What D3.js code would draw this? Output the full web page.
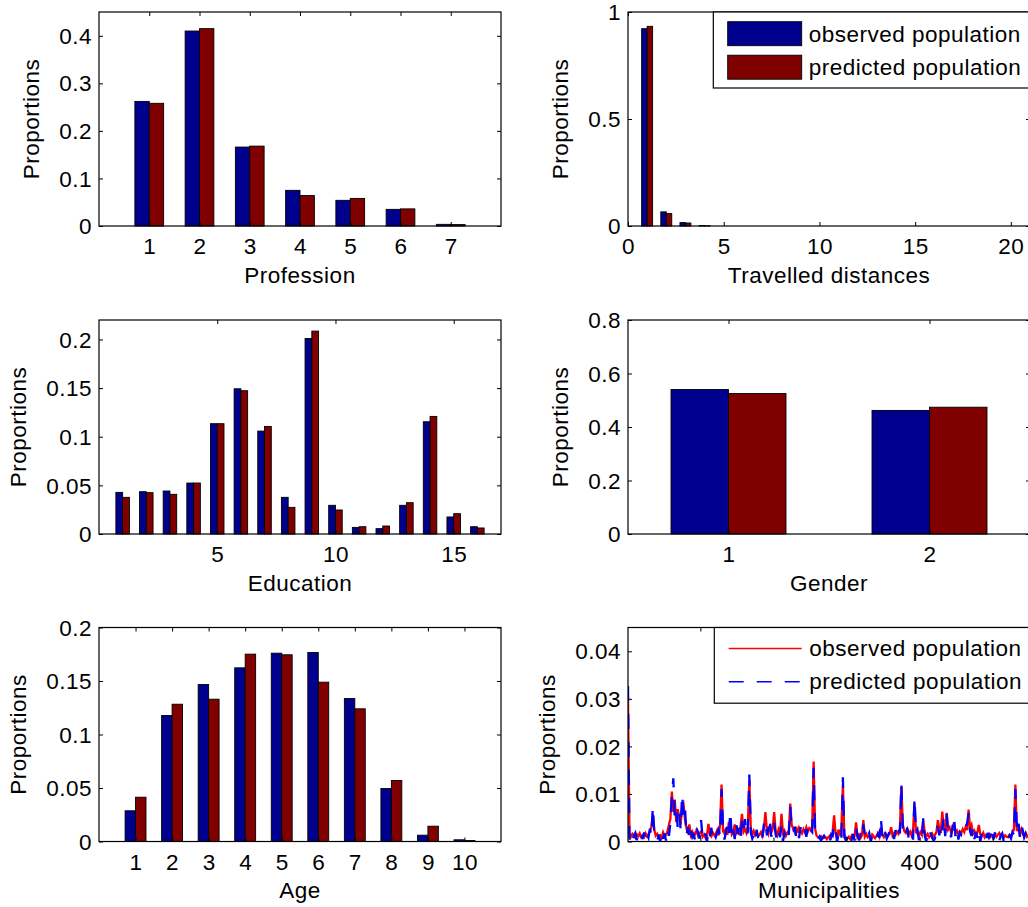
<!DOCTYPE html>
<html>
<head>
<meta charset="utf-8">
<script src="https://cdn.jsdelivr.net/npm/d3@7/dist/d3.min.js"></script>
<style>
  body { margin: 0; background: #fff; }
  svg text { font-family: "Liberation Sans", Arial, sans-serif; font-size: 22.5px; letter-spacing: 0.5px; fill: #000; }
</style>
</head>
<body>
<svg id="chart" width="1028" height="907"></svg>
<script>
// ---- data ----
let professionCats = [1, 2, 3, 4, 5, 6, 7];
let professionObs = [0.262, 0.410, 0.166, 0.075, 0.054, 0.035, 0.0035];
let professionPred = [0.258, 0.415, 0.168, 0.064, 0.058, 0.036, 0.003];

let distanceCats = [1, 2, 3, 4, 5, 6, 7, 8, 9, 10, 11, 12, 13, 14, 15, 16, 17, 18, 19, 20];
let distanceObs = [0.922, 0.066, 0.016, 0.002, 0, 0, 0, 0, 0, 0, 0, 0, 0, 0, 0, 0, 0, 0, 0, 0];
let distancePred = [0.933, 0.058, 0.014, 0.001, 0, 0, 0, 0, 0, 0, 0, 0, 0, 0, 0, 0, 0, 0, 0, 0];

let educationCats = [1, 2, 3, 4, 5, 6, 7, 8, 9, 10, 11, 12, 13, 14, 15, 16];
let educationObs = [0.0428, 0.0435, 0.0442, 0.0524, 0.1134, 0.1493, 0.1058, 0.0377, 0.2010, 0.0295, 0.0068, 0.0055, 0.0295, 0.1154, 0.0175, 0.0075];
let educationPred = [0.0377, 0.0425, 0.0408, 0.0524, 0.1134, 0.1473, 0.1106, 0.0274, 0.2086, 0.0247, 0.0075, 0.0082, 0.0322, 0.1209, 0.0209, 0.0062];

let genderCats = [1, 2];
let genderObs = [0.540, 0.462];
let genderPred = [0.525, 0.474];

let ageCats = [1, 2, 3, 4, 5, 6, 7, 8, 9, 10];
let ageObs = [0.0287, 0.1178, 0.1467, 0.1623, 0.1760, 0.1766, 0.1336, 0.0495, 0.0059, 0.0016];
let agePred = [0.0414, 0.1283, 0.1330, 0.1751, 0.1745, 0.1489, 0.1240, 0.0570, 0.0143, 0.0009];

// municipalities, every second one (1, 3, 5, ... 549)
let muniObserved = [
  0.0301, 0.0018, 0.0010, 0.0016, 0.0012, 0.0008, 0.0015, 0.0011, 0.0017, 0.0009,
  0.0013, 0.0009, 0.0017, 0.0011, 0.0015, 0.0022, 0.0031, 0.0058, 0.0024, 0.0012,
  0.0016, 0.0010, 0.0013, 0.0008, 0.0019, 0.0011, 0.0014, 0.0021, 0.0035, 0.0048,
  0.0105, 0.0062, 0.0088, 0.0041, 0.0068, 0.0052, 0.0035, 0.0071, 0.0078, 0.0046,
  0.0028, 0.0017, 0.0036, 0.0013, 0.0020, 0.0011, 0.0016, 0.0024, 0.0012, 0.0018,
  0.0021, 0.0010, 0.0015, 0.0008, 0.0012, 0.0037, 0.0016, 0.0011, 0.0019, 0.0013,
  0.0016, 0.0024, 0.0013, 0.0035, 0.0120, 0.0022, 0.0017, 0.0028, 0.0014, 0.0041,
  0.0030, 0.0015, 0.0021, 0.0036, 0.0018, 0.0025, 0.0014, 0.0032, 0.0058, 0.0020,
  0.0026, 0.0018, 0.0034, 0.0130, 0.0028, 0.0015, 0.0022, 0.0013, 0.0019, 0.0011,
  0.0014, 0.0020, 0.0012, 0.0028, 0.0062, 0.0024, 0.0016, 0.0035, 0.0019, 0.0027,
  0.0062, 0.0021, 0.0013, 0.0025, 0.0016, 0.0058, 0.0018, 0.0023, 0.0012, 0.0019,
  0.0022, 0.0080, 0.0034, 0.0027, 0.0020, 0.0031, 0.0018, 0.0029, 0.0023, 0.0017,
  0.0026, 0.0019, 0.0030, 0.0021, 0.0028, 0.0024, 0.0032, 0.0168, 0.0027, 0.0012,
  0.0009, 0.0007, 0.0011, 0.0006, 0.0008, 0.0010, 0.0005, 0.0009, 0.0012, 0.0008,
  0.0021, 0.0055, 0.0017, 0.0009, 0.0025, 0.0012, 0.0030, 0.0120, 0.0014, 0.0008,
  0.0006, 0.0010, 0.0005, 0.0012, 0.0008, 0.0011, 0.0040, 0.0009, 0.0014, 0.0007,
  0.0013, 0.0045, 0.0010, 0.0016, 0.0009, 0.0012, 0.0008, 0.0015, 0.0011, 0.0007,
  0.0012, 0.0018, 0.0010, 0.0030, 0.0014, 0.0009, 0.0017, 0.0011, 0.0013, 0.0016,
  0.0030, 0.0012, 0.0017, 0.0014, 0.0020, 0.0016, 0.0028, 0.0115, 0.0035, 0.0022,
  0.0018, 0.0026, 0.0015, 0.0021, 0.0013, 0.0024, 0.0080, 0.0020, 0.0016, 0.0012,
  0.0020, 0.0014, 0.0045, 0.0018, 0.0011, 0.0016, 0.0009, 0.0013, 0.0017, 0.0010,
  0.0014, 0.0020, 0.0045, 0.0026, 0.0018, 0.0063, 0.0029, 0.0022, 0.0060, 0.0025,
  0.0030, 0.0019, 0.0024, 0.0040, 0.0017, 0.0023, 0.0015, 0.0021, 0.0018, 0.0026,
  0.0020, 0.0031, 0.0024, 0.0067, 0.0028, 0.0035, 0.0016, 0.0022, 0.0013, 0.0019,
  0.0035, 0.0015, 0.0011, 0.0018, 0.0009, 0.0014, 0.0012, 0.0016, 0.0010, 0.0013,
  0.0012, 0.0016, 0.0010, 0.0014, 0.0018, 0.0011, 0.0015, 0.0008, 0.0013, 0.0010,
  0.0009, 0.0014, 0.0011, 0.0018, 0.0025, 0.0120, 0.0022, 0.0030, 0.0017, 0.0026,
  0.0015, 0.0012, 0.0018, 0.0010, 0.0014
];
let muniPredicted = [
  0.0327, 0.0004, 0.0015, 0.0002, 0.0012, 0.0018, 0.0003, 0.0014, 0.0007, 0.0016,
  0.0005, 0.0019, 0.0002, 0.0016, 0.0008, 0.0027, 0.0012, 0.0073, 0.0015, 0.0003,
  0.0001, 0.0014, 0.0000, 0.0021, 0.0006, 0.0017, 0.0002, 0.0026, 0.0012, 0.0039,
  0.0092, 0.0133, 0.0048, 0.0065, 0.0030, 0.0058, 0.0026, 0.0099, 0.0055, 0.0073,
  0.0012, 0.0031, 0.0004, 0.0022, 0.0009, 0.0015, 0.0001, 0.0027, 0.0018, 0.0006,
  0.0045, 0.0008, 0.0002, 0.0017, 0.0000, 0.0024, 0.0011, 0.0029, 0.0005, 0.0016,
  0.0009, 0.0018, 0.0026, 0.0012, 0.0110, 0.0031, 0.0004, 0.0020, 0.0035, 0.0015,
  0.0063, 0.0010, 0.0027, 0.0005, 0.0039, 0.0016, 0.0030, 0.0008, 0.0044, 0.0023,
  0.0047, 0.0012, 0.0021, 0.0141, 0.0019, 0.0006, 0.0014, 0.0000, 0.0025, 0.0008,
  0.0002, 0.0017, 0.0009, 0.0038, 0.0045, 0.0013, 0.0028, 0.0048, 0.0010, 0.0022,
  0.0040, 0.0015, 0.0003, 0.0021, 0.0009, 0.0033, 0.0000, 0.0018, 0.0011, 0.0026,
  0.0014, 0.0073, 0.0025, 0.0019, 0.0031, 0.0012, 0.0026, 0.0007, 0.0030, 0.0016,
  0.0018, 0.0028, 0.0010, 0.0029, 0.0015, 0.0024, 0.0020, 0.0155, 0.0013, 0.0006,
  0.0004, 0.0010, 0.0002, 0.0008, 0.0012, 0.0003, 0.0007, 0.0011, 0.0000, 0.0015,
  0.0012, 0.0036, 0.0026, 0.0000, 0.0014, 0.0021, 0.0006, 0.0135, 0.0009, 0.0003,
  0.0012, 0.0001, 0.0009, 0.0004, 0.0016, 0.0002, 0.0030, 0.0011, 0.0005, 0.0013,
  0.0006, 0.0036, 0.0014, 0.0002, 0.0011, 0.0018, 0.0000, 0.0009, 0.0015, 0.0004,
  0.0003, 0.0015, 0.0008, 0.0048, 0.0010, 0.0000, 0.0019, 0.0006, 0.0013, 0.0022,
  0.0012, 0.0020, 0.0005, 0.0024, 0.0011, 0.0026, 0.0017, 0.0122, 0.0028, 0.0014,
  0.0010, 0.0029, 0.0006, 0.0016, 0.0022, 0.0004, 0.0092, 0.0018, 0.0025, 0.0003,
  0.0016, 0.0007, 0.0050, 0.0012, 0.0000, 0.0014, 0.0005, 0.0019, 0.0008, 0.0002,
  0.0006, 0.0035, 0.0028, 0.0013, 0.0042, 0.0024, 0.0050, 0.0011, 0.0058, 0.0017,
  0.0022, 0.0009, 0.0031, 0.0052, 0.0012, 0.0027, 0.0004, 0.0019, 0.0014, 0.0020,
  0.0016, 0.0027, 0.0038, 0.0060, 0.0021, 0.0012, 0.0030, 0.0005, 0.0020, 0.0008,
  0.0024, 0.0000, 0.0016, 0.0006, 0.0012, 0.0003, 0.0018, 0.0008, 0.0014, 0.0030,
  0.0004, 0.0019, 0.0009, 0.0015, 0.0002, 0.0012, 0.0017, 0.0000, 0.0010, 0.0006,
  0.0002, 0.0012, 0.0006, 0.0020, 0.0014, 0.0110, 0.0028, 0.0045, 0.0010, 0.0035,
  0.0024, 0.0008, 0.0016, 0.0005, 0.0012
];

let seriesNames = ["observed population", "predicted population"];

// ---- layout ----
let panelW = 402,
  panelH = 214,
  colX = [99, 628],
  rowY = [12, 320, 627.5],
  barW = 0.286,
  tickLen = 4,
  blue = "#00008f",
  red = "#800000";

let fmt = d => String(+d.toFixed(4));

let svg = d3.select("#chart");
svg.append("rect").attr("width", 1028).attr("height", 907).attr("fill", "#fff");

function makePanel(col, row, xDomain, yDomain, xTicks, yTicks, xLabel) {
  let left = colX[col], top = rowY[row];
  let g = svg.append("g").attr("transform", `translate(${left},${top})`);
  let x = d3.scaleLinear().domain(xDomain).range([0, panelW]);
  let y = d3.scaleLinear().domain(yDomain).range([panelH, 0]);
  let marks = g.append("g");
  return { g, x, y, marks, xTicks, yTicks, xLabel };
}

function finishPanel(p) {
  let g = p.g;
  g.append("rect")
    .attr("width", panelW).attr("height", panelH)
    .attr("fill", "none").attr("stroke", "#000").attr("stroke-width", 1.2);

  let bottom = g.append("g").attr("transform", `translate(0,${panelH})`)
    .call(d3.axisBottom(p.x).tickValues(p.xTicks).tickSizeInner(-tickLen).tickSizeOuter(0).tickFormat(fmt));
  bottom.selectAll("text").attr("y", 28).attr("dy", 0);

  g.append("g").call(d3.axisTop(p.x).tickValues(p.xTicks).tickSizeInner(-tickLen).tickSizeOuter(0).tickFormat(""));

  let leftAx = g.append("g")
    .call(d3.axisLeft(p.y).tickValues(p.yTicks).tickSizeInner(-tickLen).tickSizeOuter(0).tickFormat(fmt));
  leftAx.selectAll("text").attr("x", -7).attr("dy", "0.34em");

  g.append("g").attr("transform", `translate(${panelW},0)`)
    .call(d3.axisRight(p.y).tickValues(p.yTicks).tickSizeInner(-tickLen).tickSizeOuter(0).tickFormat(""));

  g.selectAll(".domain").remove();
  g.selectAll(".tick line").attr("stroke", "#000");
  g.selectAll(".tick text").attr("fill", "#000");
  g.selectAll(".tick").attr("font-size", null).attr("font-family", null);
  g.selectAll("g").attr("font-size", null).attr("font-family", null);

  let minX = d3.min(leftAx.selectAll("text").nodes(), n => n.getBBox().x);

  g.append("text")
    .attr("x", panelW / 2).attr("y", panelH + 56.5)
    .attr("text-anchor", "middle")
    .text(p.xLabel);

  g.append("text")
    .attr("transform", `translate(${minX - 20},${panelH / 2}) rotate(-90)`)
    .attr("text-anchor", "middle")
    .text("Proportions");
}

function drawBars(p, cats, obs, pred) {
  let sets = [obs, pred];
  sets.forEach((vals, k) => {
    p.marks.selectAll(null)
      .data(cats)
      .enter()
      .append("rect")
      .attr("x", (d, i) => p.x(d - barW + k * barW))
      .attr("width", p.x(barW) - p.x(0))
      .attr("y", (d, i) => p.y(vals[i]))
      .attr("height", (d, i) => p.y(0) - p.y(vals[i]))
      .attr("fill", k === 0 ? blue : red)
      .attr("stroke", "#000")
      .attr("stroke-width", 0.9);
  });
}

function barLegend(p) {
  let lg = p.g.append("g").attr("transform", "translate(85.3,0)");
  lg.append("rect").attr("width", 330).attr("height", 76)
    .attr("fill", "#fff").attr("stroke", "#000").attr("stroke-width", 1.2);
  seriesNames.forEach((name, k) => {
    let cy = 21.7 + k * 33.5;
    lg.append("rect").attr("x", 14.4).attr("y", cy - 12).attr("width", 74).attr("height", 24)
      .attr("fill", k === 0 ? blue : red).attr("stroke", "#000").attr("stroke-width", 0.9);
    lg.append("text").attr("x", 95.4).attr("y", cy).attr("dy", "0.35em").text(name);
  });
}

function lineLegend(p) {
  let lg = p.g.append("g").attr("transform", "translate(86.3,0)");
  lg.append("rect").attr("width", 330).attr("height", 75.7)
    .attr("fill", "#fff").attr("stroke", "#000").attr("stroke-width", 1.2);
  seriesNames.forEach((name, k) => {
    let cy = 21 + k * 33.3;
    lg.append("line").attr("x1", 14.4).attr("x2", 87.4).attr("y1", cy).attr("y2", cy)
      .attr("stroke", k === 0 ? "#ff0000" : "#0000ff").attr("stroke-width", 1.5)
      .attr("stroke-dasharray", k === 0 ? null : "15,13");
    lg.append("text").attr("x", 95).attr("y", cy).attr("dy", "0.33em").text(name);
  });
}

// Profession
let p1 = makePanel(0, 0, [0, 8], [0, 0.45], [1, 2, 3, 4, 5, 6, 7], [0, 0.1, 0.2, 0.3, 0.4], "Profession");
drawBars(p1, professionCats, professionObs, professionPred);
finishPanel(p1);

// Travelled distances
let p2 = makePanel(1, 0, [0, 21], [0, 1], [0, 5, 10, 15, 20], [0, 0.5, 1], "Travelled distances");
drawBars(p2, distanceCats, distanceObs, distancePred);
finishPanel(p2);
barLegend(p2);

// Education
let p3 = makePanel(0, 1, [0, 17], [0, 0.22], [5, 10, 15], [0, 0.05, 0.1, 0.15, 0.2], "Education");
drawBars(p3, educationCats, educationObs, educationPred);
finishPanel(p3);

// Gender
let p4 = makePanel(1, 1, [0.5, 2.5], [0, 0.8], [1, 2], [0, 0.2, 0.4, 0.6, 0.8], "Gender");
drawBars(p4, genderCats, genderObs, genderPred);
finishPanel(p4);

// Age
let p5 = makePanel(0, 2, [0, 11], [0, 0.2], [1, 2, 3, 4, 5, 6, 7, 8, 9, 10], [0, 0.05, 0.1, 0.15, 0.2], "Age");
drawBars(p5, ageCats, ageObs, agePred);
finishPanel(p5);

// Municipalities
let p6 = makePanel(1, 2, [1, 551], [0, 0.045], [100, 200, 300, 400, 500], [0, 0.01, 0.02, 0.03, 0.04], "Municipalities");
p6.g.append("clipPath").attr("id", "muniClip")
  .append("rect").attr("width", panelW).attr("height", panelH);
let muniIds = muniObserved.map((v, i) => 1 + 2 * i);
let line = d3.line().x((d, i) => p6.x(muniIds[i])).y(d => p6.y(d));
p6.marks.attr("clip-path", "url(#muniClip)");
p6.marks.append("path").datum(muniObserved).attr("d", line)
  .attr("fill", "none").attr("stroke", "#ff0000").attr("stroke-width", 2.3);
p6.marks.append("path").datum(muniPredicted).attr("d", line)
  .attr("fill", "none").attr("stroke", "#0000ff").attr("stroke-width", 2.3)
  .attr("stroke-dasharray", "15,13");
finishPanel(p6);
lineLegend(p6);
</script>
</body>
</html>
